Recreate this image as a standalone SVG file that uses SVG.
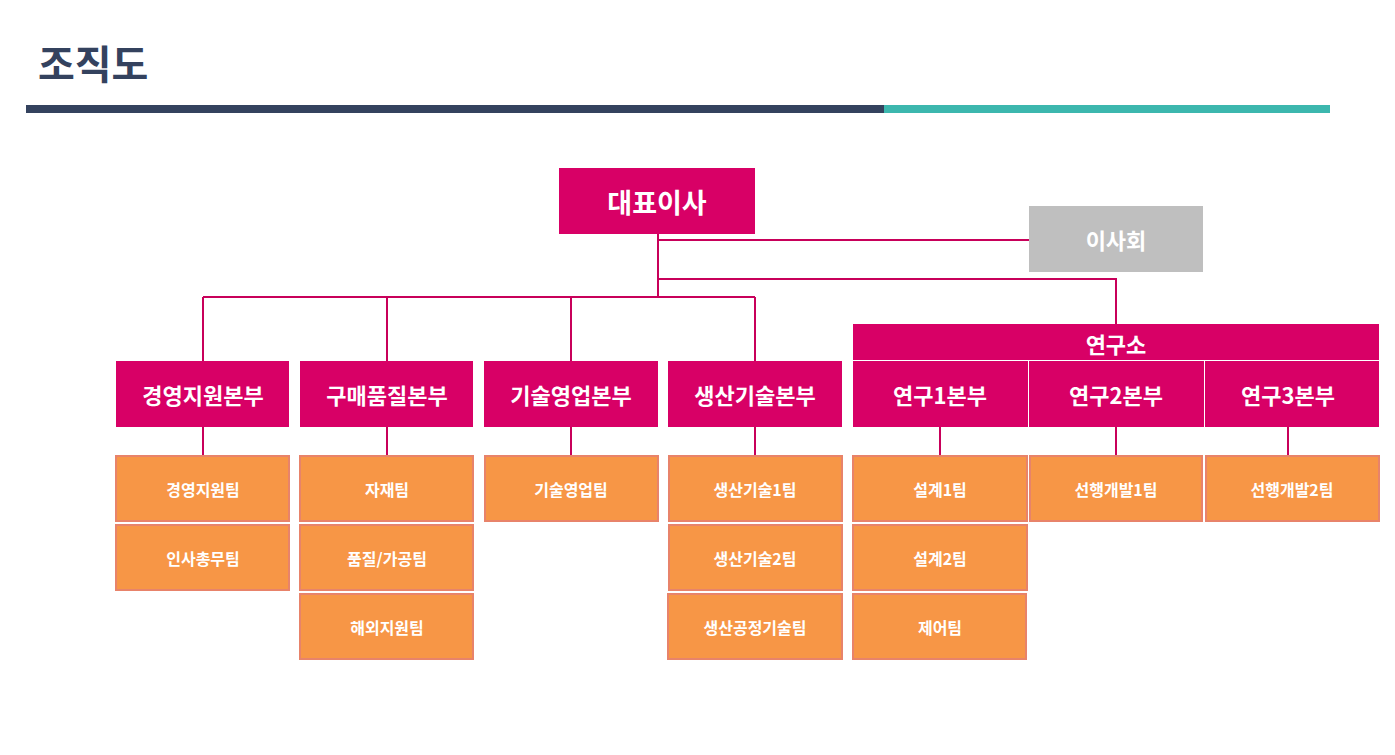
<svg xmlns="http://www.w3.org/2000/svg" width="1395" height="755" viewBox="0 0 1395 755">
<style>
text{font-family:"Noto Sans CJK KR","Noto Sans",sans-serif;font-weight:bold;fill:#fff;text-anchor:middle;dominant-baseline:central}
.m{fill:#d80066}
.t{fill:#f79646;stroke:#e8836a;stroke-width:2}
.d{font-size:22px}
.s{font-size:16px}
.c{fill:none;stroke:#c8005a;stroke-width:2}
</style>
<rect width="1395" height="755" fill="#fff"/>
<text x="38" y="62" style="fill:#34425e;font-size:40px;text-anchor:start">조직도</text>
<rect x="26" y="105" width="858" height="8" fill="#34425e"/>
<rect x="884" y="105" width="446" height="8" fill="#3cb7ae"/>
<g id="connectors" class="c">
<path d="M658 234V297M658 240H1029M658 279H1116V324M203 297H755M203 297V361M387 297V361M571 297V361M755 297V361"/>
<path d="M203 427V456M387 427V456M571 427V456M755 427V456M940 427V456M1116 427V456M1288 427V456"/>
</g>
<g id="ceo"><rect class="m" x="559" y="168" width="196" height="66"/><text x="657" y="201" style="font-size:27px">대표이사</text></g>
<g id="board"><rect x="1029" y="206" width="174" height="66" fill="#bfbfbf"/><text x="1116" y="239" class="d">이사회</text></g>
<g id="lab"><rect class="m" x="853" y="324" width="526" height="36"/><text x="1116" y="343" class="d">연구소</text></g>
<g id="d1"><rect class="m" x="116" y="361" width="173" height="66"/><text x="203" y="394" class="d">경영지원본부</text></g>
<g id="d2"><rect class="m" x="300" y="361" width="173" height="66"/><text x="387" y="394" class="d">구매품질본부</text></g>
<g id="d3"><rect class="m" x="484" y="361" width="174" height="66"/><text x="571" y="394" class="d">기술영업본부</text></g>
<g id="d4"><rect class="m" x="668" y="361" width="174" height="66"/><text x="755" y="394" class="d">생산기술본부</text></g>
<g id="d5"><rect class="m" x="853" y="361" width="175" height="66"/><text x="940" y="394" class="d">연구1본부</text></g>
<g id="d6"><rect class="m" x="1029" y="361" width="175" height="66"/><text x="1116" y="394" class="d">연구2본부</text></g>
<g id="d7"><rect class="m" x="1205" y="361" width="174" height="66"/><text x="1288" y="394" class="d">연구3본부</text></g>
<g id="t1"><rect class="t" x="116" y="456" width="173" height="65"/><text x="203" y="489" class="s">경영지원팀</text></g>
<g id="t2"><rect class="t" x="116" y="525" width="173" height="65"/><text x="203" y="558" class="s">인사총무팀</text></g>
<g id="t3"><rect class="t" x="300" y="456" width="173" height="65"/><text x="387" y="489" class="s">자재팀</text></g>
<g id="t4"><rect class="t" x="300" y="525" width="173" height="65"/><text x="387" y="558" class="s">품질/가공팀</text></g>
<g id="t5"><rect class="t" x="300" y="594" width="173" height="65"/><text x="387" y="627" class="s">해외지원팀</text></g>
<g id="t6"><rect class="t" x="485" y="456" width="173" height="65"/><text x="571" y="489" class="s">기술영업팀</text></g>
<g id="t7"><rect class="t" x="669" y="456" width="173" height="65"/><text x="755" y="489" class="s">생산기술1팀</text></g>
<g id="t8"><rect class="t" x="669" y="525" width="173" height="65"/><text x="755" y="558" class="s">생산기술2팀</text></g>
<g id="t9"><rect class="t" x="668" y="594" width="174" height="65"/><text x="755" y="627" class="s">생산공정기술팀</text></g>
<g id="t10"><rect class="t" x="853" y="456" width="174" height="65"/><text x="940" y="489" class="s">설계1팀</text></g>
<g id="t11"><rect class="t" x="853" y="525" width="174" height="65"/><text x="940" y="558" class="s">설계2팀</text></g>
<g id="t12"><rect class="t" x="853" y="594" width="173" height="65"/><text x="940" y="627" class="s">제어팀</text></g>
<g id="t13"><rect class="t" x="1030" y="456" width="172" height="65"/><text x="1116" y="489" class="s">선행개발1팀</text></g>
<g id="t14"><rect class="t" x="1206" y="456" width="173" height="65"/><text x="1292" y="489" class="s">선행개발2팀</text></g>
</svg>
